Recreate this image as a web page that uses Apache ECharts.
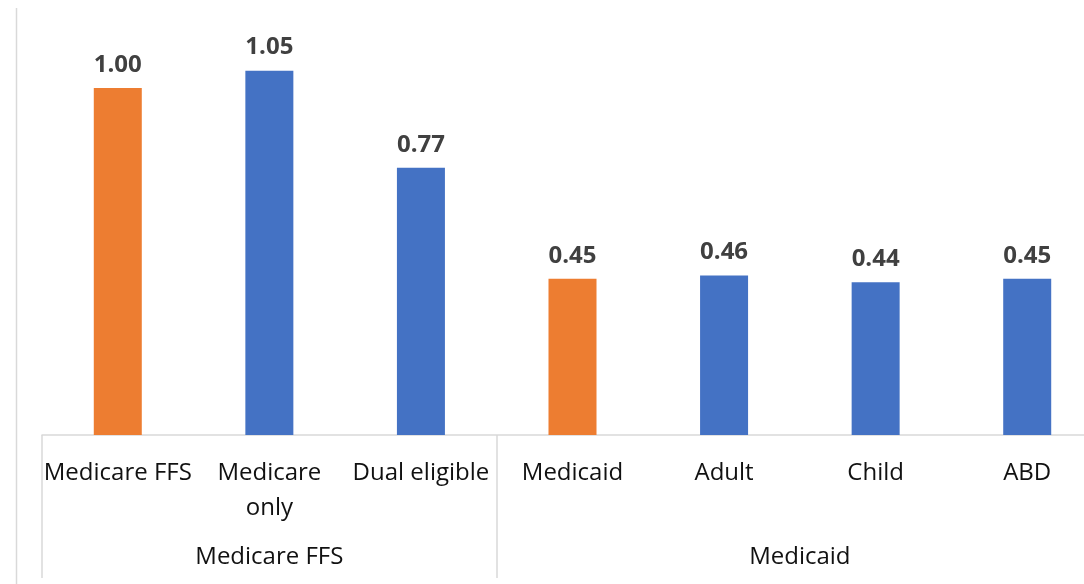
<!DOCTYPE html>
<html>
<head>
<meta charset="utf-8">
<script src="https://cdn.jsdelivr.net/npm/echarts@6/dist/echarts.min.js"></script>
<style>
  html, body { margin: 0; padding: 0; background: #fff; overflow: hidden; width: 1084px; height: 584px; }
  /* the original is cropped on the right, so the canvas runs a bit past the window */
  #chart { width: 1103px; height: 584px; }
</style>
</head>
<body>
<div id="chart"></div>
<script>
// data
const categories = ['Medicare FFS', 'Medicare\nonly', 'Dual eligible', 'Medicaid', 'Adult', 'Child', 'ABD'];
const values = [1.00, 1.05, 0.77, 0.45, 0.46, 0.44, 0.45];
const groupNames = ['Medicare FFS', 'Medicaid'];
const groupSizes = [3, 4];
// reference categories drawn in orange
const referenceBars = ['Medicare FFS', 'Medicaid'];

const ORANGE = '#ED7D31';
const BLUE = '#4472C4';
const GRID_LINE = '#d9d9d9';
const FONT = '"Open Sans", sans-serif';

const chart = echarts.init(document.getElementById('chart'));

// first category index of each group -> boundary ticks
const groupStarts = [];
let acc = 0;
groupSizes.forEach((n) => { groupStarts.push(acc); acc += n; });

const option = {
  animation: false,
  grid: { left: 42, top: 18.6, right: 0, height: 416.4 },
  xAxis: {
    type: 'category',
    data: categories,
    boundaryGap: true,
    axisLine: { lineStyle: { color: GRID_LINE, width: 1.5 } },
    axisTick: {
      show: true,
      length: 143,
      interval: (i) => groupStarts.includes(i),
      lineStyle: { color: GRID_LINE, width: 1.5 }
    },
    axisLabel: {
      interval: 0,
      margin: 21,
      fontSize: 24,
      lineHeight: 35,
      color: '#111',
      fontFamily: FONT
    }
  },
  yAxis: {
    type: 'value',
    min: 0,
    max: 1.2,
    show: false,
    splitLine: { show: false }
  },
  series: [{
    type: 'bar',
    data: values.map((v, i) => ({
      value: v,
      itemStyle: { color: referenceBars.includes(categories[i]) ? ORANGE : BLUE }
    })),
    barWidth: 48,
    label: {
      show: true,
      position: 'top',
      distance: 11,
      formatter: (p) => p.value.toFixed(2),
      fontSize: 24,
      fontWeight: 'bold',
      color: '#404040',
      fontFamily: FONT
    }
  }]
};

chart.setOption(option);

// group labels under the categories, centred on each group's span
const groupTexts = groupNames.map((name, g) => {
  const first = groupStarts[g];
  const last = first + groupSizes[g] - 1;
  const x0 = chart.convertToPixel({ xAxisIndex: 0 }, categories[first]);
  const x1 = chart.convertToPixel({ xAxisIndex: 0 }, categories[last]);
  const yAxisPx = chart.convertToPixel({ yAxisIndex: 0 }, 0);
  return {
    type: 'text',
    x: (x0 + x1) / 2,
    y: yAxisPx + 122,
    style: {
      text: name,
      fontSize: 24,
      fontFamily: FONT,
      fill: '#111',
      align: 'center',
      verticalAlign: 'middle'
    }
  };
});

chart.setOption({
  graphic: [
    {
      type: 'line',
      shape: { x1: 16.5, y1: 8, x2: 16.5, y2: 584 },
      style: { stroke: GRID_LINE, lineWidth: 1.5 }
    },
    ...groupTexts
  ]
});
</script>
</body>
</html>
